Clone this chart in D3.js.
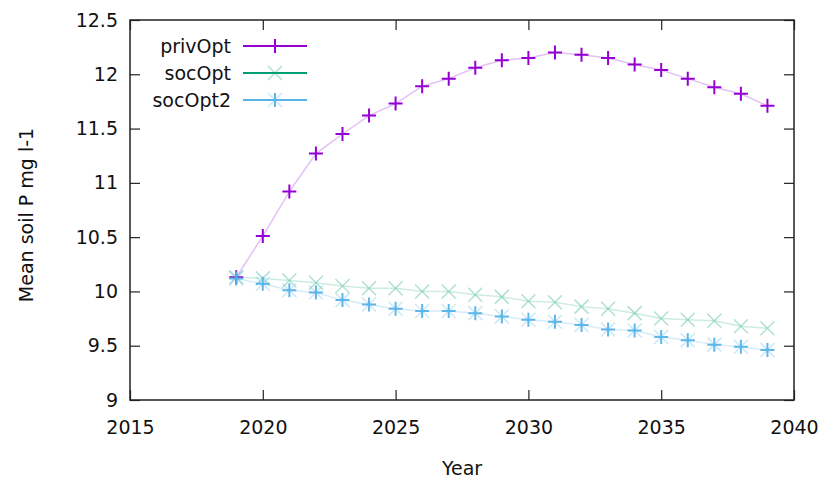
<!DOCTYPE html>
<html>
<head>
<meta charset="utf-8">
<script src="https://cdn.jsdelivr.net/npm/d3@7"></script>
<style>
  body { margin: 0; background: #fff; }
  text { font-family: "DejaVu Sans", sans-serif; fill: #111; }
</style>
</head>
<body>
<div class="chart"></div>
<script>
let years = d3.range(2019, 2040);
let privOpt = [10.13, 10.51, 10.92, 11.27, 11.45, 11.62, 11.73, 11.89, 11.96, 12.06, 12.13, 12.15, 12.20, 12.18, 12.15, 12.09, 12.04, 11.96, 11.88, 11.82, 11.71];
let socOpt = [10.13, 10.12, 10.10, 10.08, 10.05, 10.03, 10.03, 10.00, 10.00, 9.97, 9.95, 9.91, 9.90, 9.86, 9.84, 9.80, 9.75, 9.74, 9.73, 9.68, 9.66];
let socOpt2 = [10.12, 10.07, 10.01, 9.99, 9.92, 9.88, 9.84, 9.82, 9.82, 9.80, 9.77, 9.74, 9.72, 9.69, 9.65, 9.64, 9.58, 9.55, 9.51, 9.49, 9.46];
let xTicks = [2015, 2020, 2025, 2030, 2035, 2040];
let yTicks = [9, 9.5, 10, 10.5, 11, 11.5, 12, 12.5];

let width = 827, height = 479;
let plotLeft = 130, plotRight = 794, plotTop = 20, plotBottom = 400;
let fontSize = "19px";

let svg = d3.select(".chart")
    .append("svg")
    .attr("width", width)
    .attr("height", height);

let xScale = d3.scaleLinear().domain([2015, 2040]).range([plotLeft, plotRight]);
let yScale = d3.scaleLinear().domain([9, 12.5]).range([plotBottom, plotTop]);

// ticks point inward on all four sides, gnuplot style
let tickLen = 10;

let styleAxis = g => {
    g.select(".domain").remove();
    g.selectAll(".tick line").attr("stroke", "#222").attr("stroke-width", 1.2);
    g.selectAll(".tick text").style("font-size", fontSize);
};

let xBottom = svg.append("g")
    .attr("transform", "translate(0," + plotBottom + ")")
    .call(d3.axisBottom(xScale).tickValues(xTicks).tickSize(-tickLen).tickFormat(d3.format("d")))
    .call(styleAxis);
xBottom.selectAll(".tick text").attr("y", 21);

svg.append("g")
    .attr("transform", "translate(0," + plotTop + ")")
    .call(d3.axisTop(xScale).tickValues(xTicks).tickSize(-tickLen).tickFormat(""))
    .call(styleAxis);

let yLeft = svg.append("g")
    .attr("transform", "translate(" + plotLeft + ",0)")
    .call(d3.axisLeft(yScale).tickValues(yTicks).tickSize(-tickLen).tickFormat(d => d))
    .call(styleAxis);
yLeft.selectAll(".tick text").attr("x", -12);

svg.append("g")
    .attr("transform", "translate(" + plotRight + ",0)")
    .call(d3.axisRight(yScale).tickValues(yTicks).tickSize(-tickLen).tickFormat(""))
    .call(styleAxis);

svg.append("rect")
    .attr("x", plotLeft).attr("y", plotTop)
    .attr("width", plotRight - plotLeft).attr("height", plotBottom - plotTop)
    .attr("fill", "none").attr("stroke", "#222").attr("stroke-width", 1.5);

svg.append("text")
    .attr("x", (plotLeft + plotRight) / 2).attr("y", 475)
    .attr("text-anchor", "middle").style("font-size", fontSize)
    .text("Year");

svg.append("text")
    .attr("transform", "translate(33,215) rotate(-90)")
    .attr("text-anchor", "middle").style("font-size", fontSize)
    .text("Mean soil P mg l-1");

let series = [
    { name: "privOpt", values: privOpt, color: "#9400d3", lineOp: 0.25, plus: 1, cross: 0 },
    { name: "socOpt", values: socOpt, color: "#009e73", lineOp: 0.2, plus: 0, cross: 0.3 },
    { name: "socOpt2", values: socOpt2, color: "#56b4e9", lineOp: 0.25, plus: 0.95, cross: 0.3 }
];

let line = d3.line()
    .x((d, i) => xScale(years[i]))
    .y(d => yScale(d));

let m = 7;
let marker = (g, s, x, y) => {
    if (s.plus) {
        g.append("path")
            .attr("d", `M${x - m},${y}H${x + m}M${x},${y - m}V${y + m}`)
            .attr("stroke", s.color).attr("stroke-width", 2).attr("opacity", s.plus);
    }
    if (s.cross) {
        g.append("path")
            .attr("d", `M${x - m},${y - m}L${x + m},${y + m}M${x - m},${y + m}L${x + m},${y - m}`)
            .attr("stroke", s.color).attr("stroke-width", 1.5).attr("opacity", s.cross);
    }
};

series.forEach(s => {
    svg.append("path")
        .datum(s.values)
        .attr("d", line)
        .attr("fill", "none")
        .attr("stroke", s.color)
        .attr("stroke-width", 1.5)
        .attr("opacity", s.lineOp);
});
series.forEach(s => {
    let g = svg.append("g");
    s.values.forEach((v, i) => marker(g, s, xScale(years[i]), yScale(v)));
});

// legend
series.forEach((s, i) => {
    let y = 46 + i * 27;
    svg.append("text")
        .attr("x", 231).attr("y", y).attr("dy", "0.35em")
        .attr("text-anchor", "end").style("font-size", fontSize)
        .text(s.name);
    svg.append("line")
        .attr("x1", 243).attr("x2", 307).attr("y1", y).attr("y2", y)
        .attr("stroke", s.color).attr("stroke-width", 2);
    marker(svg.append("g"), s, 275, y);
});
</script>
</body>
</html>
